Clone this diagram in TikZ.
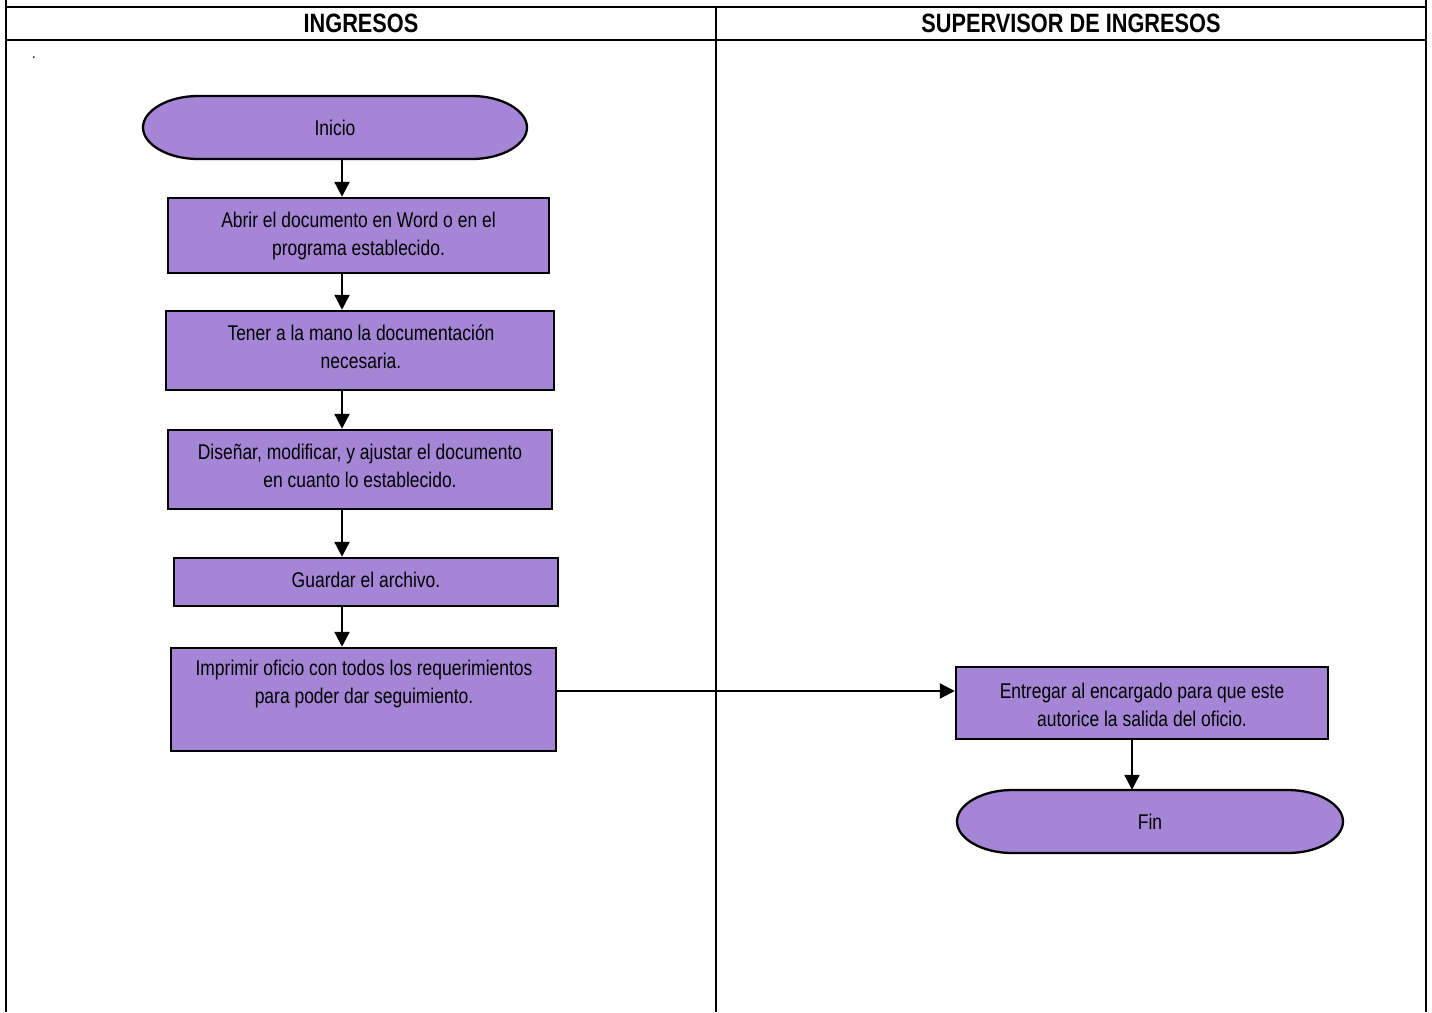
\documentclass[tikz,border=0pt]{standalone}
\usepackage{fontspec}
\setmainfont{Liberation Sans}[FakeStretch=0.82]
\usetikzlibrary{arrows.meta,calc}
\definecolor{lila}{RGB}{165,133,214}
\tikzset{
  frame/.style={line width=2.8pt, black},
  proc/.style={draw, line width=2.5pt, fill=lila, rectangle, inner sep=0pt},
  txt/.style={align=center, font=\fontsize{21.3}{28}\selectfont, inner sep=0pt},
  hdr/.style={font=\fontsize{26.5}{28}\selectfont\bfseries, inner sep=0pt},
  termline/.style={draw, line width=2.3pt, fill=lila},
  arr/.style={line width=2.3pt, -{Triangle[length=15pt,width=15pt]}},
}
\newcommand\termshape[4]{% x1,y1,x2,y2
  \path[termline] (#1+55,#2) -- (#3-55,#2)
    .. controls (#3-25,#2) and (#3,#2/2+#4/2-17) .. (#3,#2/2+#4/2)
    .. controls (#3,#2/2+#4/2+17) and (#3-25,#4) .. (#3-55,#4)
    -- (#1+55,#4)
    .. controls (#1+25,#4) and (#1,#2/2+#4/2+17) .. (#1,#2/2+#4/2)
    .. controls (#1,#2/2+#4/2-17) and (#1+25,#2) .. (#1+55,#2) -- cycle;}
\begin{document}
\begin{tikzpicture}[x=1pt,y=-1pt]
\useasboundingbox (0,0) rectangle (1432,1012);
% frame
\draw[frame] (6,0) -- (6,1012);
\draw[frame] (1426,0) -- (1426,1012);
\draw[frame] (6,7) -- (1426,7);
\draw[frame] (6,40) -- (1426,40);
\draw[frame] (716,7) -- (716,1012);
\node[hdr] (h1) at (361,23) {INGRESOS};
\node[hdr] (h2) at (1071,23) {SUPERVISOR DE INGRESOS};
\node[txt, font=\fontsize{16}{16}\selectfont] (dot) at (34,58) {.};
% start
\termshape{143}{96}{527}{159}
\node[txt, minimum width=384, minimum height=63] (ini) at (335,127.5) {Inicio};
\node[proc, minimum width=381, minimum height=75] (b1) at (358.5,235.5) {};
\node[txt] (t1) at (358.5,235.5) {Abrir el documento en Word o en el\\programa establecido.};
\node[proc, minimum width=388, minimum height=79] (b2) at (360,350.5) {};
\node[txt] (t2) at (361,347) {Tener a la mano la documentación\\necesaria.};
\node[proc, minimum width=384, minimum height=79] (b3) at (360,469.5) {};
\node[txt] (t3) at (360,466) {Diseñar, modificar, y ajustar el documento\\en cuanto lo establecido.};
\node[proc, minimum width=384, minimum height=48] (b4) at (366,582) {};
\node[txt] (t4) at (366,580) {Guardar el archivo.};
\node[proc, minimum width=385, minimum height=103] (b5) at (363.5,699.5) {};
\node[txt] (t5) at (364,684) {Imprimir oficio con todos los requerimientos\\para poder dar seguimiento.};
\node[proc, minimum width=372, minimum height=72] (b6) at (1142,703) {};
\node[txt] (t6) at (1142,705) {Entregar al encargado para que este\\autorice la salida del oficio.};
\termshape{957}{790}{1343}{853}
\node[txt, minimum width=386, minimum height=63] (fin) at (1150,821.5) {Fin};
% connectors
\coordinate (vx) at (342,0);
\coordinate (hy) at (0,691);
\draw[arr] (ini.south -| vx) -- (b1.north -| vx);
\draw[arr] (b1.south -| vx) -- (b2.north -| vx);
\draw[arr] (b2.south -| vx) -- (b3.north -| vx);
\draw[arr] (b3.south -| vx) -- (b4.north -| vx);
\draw[arr] (b4.south -| vx) -- (b5.north -| vx);
\draw[arr] (b5.east |- hy) -- (b6.west |- hy);
\coordinate (vx2) at (1132,0);
\draw[arr] (b6.south -| vx2) -- (fin.north -| vx2);
\end{tikzpicture}
\end{document}
